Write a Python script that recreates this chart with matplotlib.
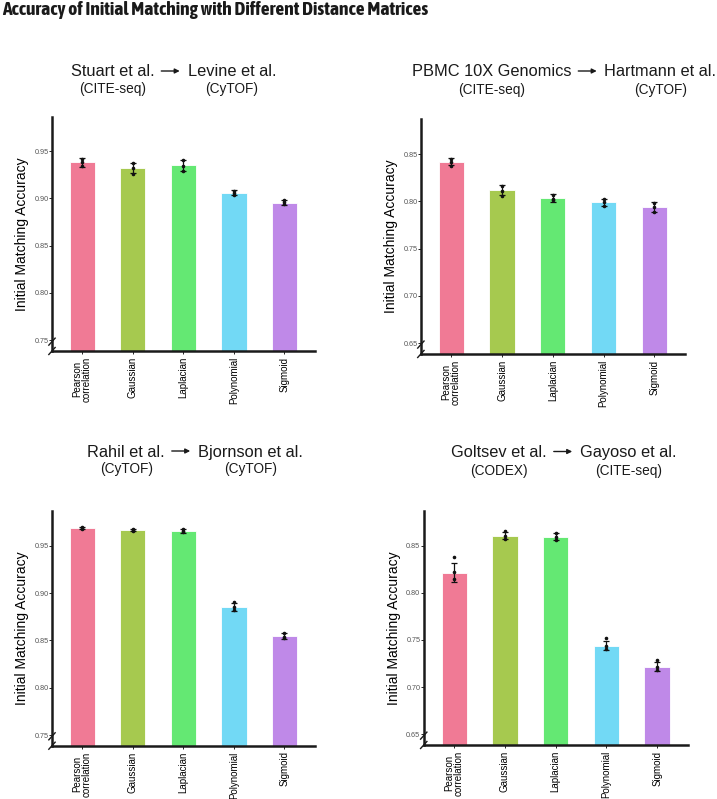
import matplotlib
matplotlib.use("Agg")
import matplotlib.pyplot as plt
from matplotlib import font_manager
from matplotlib.patches import FancyArrowPatch
import numpy as np

plt.rcParams['font.family'] = ['Liberation Sans', 'DejaVu Sans']

#------------------------------------------------------------------------------
#                               DATA
methods = ['Pearson\ncorrelation', 'Gaussian', 'Laplacian', 'Polynomial', 'Sigmoid']
colors = ['#F07A95', '#A6C94F', '#64E873', '#72D9F5', '#BF89E8']

titles = [('Stuart et al.', 'Levine et al.', '(CITE-seq)', '(CyTOF)'),
          ('PBMC 10X Genomics', 'Hartmann et al.', '(CITE-seq)', '(CyTOF)'),
          ('Rahil et al.', 'Bjornson et al.', '(CyTOF)', '(CyTOF)'),
          ('Goltsev et al.', 'Gayoso et al.', '(CODEX)', '(CITE-seq)')]

# mean accuracy per method, for each panel
means_stuart = [0.938, 0.932, 0.935, 0.906, 0.8955]
means_pbmc = [0.842, 0.812, 0.8035, 0.799, 0.794]
means_rahil = [0.969, 0.9666, 0.9655, 0.885, 0.8543]
means_goltsev = [0.8215, 0.8606, 0.8595, 0.744, 0.7216]

# error bar half widths
err_stuart = [0.0045, 0.005, 0.006, 0.0025, 0.0025]
err_pbmc = [0.004, 0.005, 0.004, 0.004, 0.005]
err_rahil = [0.001, 0.0015, 0.002, 0.004, 0.003]
err_goltsev = [0.0105, 0.004, 0.0035, 0.0045, 0.005]

# individual runs (dots)
pts_stuart = [[0.934, 0.938, 0.942], [0.926, 0.932, 0.937], [0.929, 0.934, 0.941],
              [0.904, 0.906, 0.908], [0.894, 0.896, 0.898]]
pts_pbmc = [[0.837, 0.842, 0.845], [0.806, 0.811, 0.816], [0.801, 0.803, 0.807],
            [0.795, 0.799, 0.802], [0.789, 0.794, 0.798]]
pts_rahil = [[0.968, 0.969, 0.970], [0.9655, 0.9665, 0.968], [0.964, 0.9655, 0.9675],
             [0.882, 0.885, 0.891], [0.852, 0.854, 0.858]]
pts_goltsev = [[0.815, 0.822, 0.838], [0.857, 0.860, 0.865], [0.856, 0.859, 0.863],
               [0.740, 0.744, 0.752], [0.718, 0.721, 0.729]]

means = [means_stuart, means_pbmc, means_rahil, means_goltsev]
errs = [err_stuart, err_pbmc, err_rahil, err_goltsev]
pts = [pts_stuart, pts_pbmc, pts_rahil, pts_goltsev]
yticks = [[0.75, 0.80, 0.85, 0.90, 0.95], [0.65, 0.70, 0.75, 0.80, 0.85],
          [0.75, 0.80, 0.85, 0.90, 0.95], [0.65, 0.70, 0.75, 0.80, 0.85]]
ylims = [(0.7385, 0.986), (0.6387, 0.887), (0.7387, 0.987), (0.6387, 0.887)]

#------------------------------------------------------------------------------
#                               LAYOUT (pixels of a 717x799 canvas)
W, H = 717.0, 799.0
rects = [[0.0725, 0.5607, 0.3665, 0.2929],
         [0.587, 0.557, 0.368, 0.294],
         [0.0725, 0.0667, 0.3665, 0.2941],
         [0.591, 0.0676, 0.368, 0.2932]]
arrow_cx = [170.5, 587.5, 181, 563]
title_y = [72, 72, 452, 452.5]
sub_y = [89.5, 90, 469.5, 471]

#------------------------------------------------------------------------------
#                               PLOT
fig = plt.figure(figsize=(7.17, 7.99), dpi=100)


def is_bold(f):
    w = f.weight
    if isinstance(w, str):
        w = font_manager.weight_dict.get(w, 400)
    return w >= 600


# condensed bold font for the header if one exists
narrow = sorted({f.name for f in font_manager.fontManager.ttflist
                 if ('Narrow' in f.name or 'Condensed' in f.name) and is_bold(f)})
header = 'Accuracy of Initial Matching with Different Distance Matrices'
if narrow:
    fig.text(0.003, 1 - 1 / H, header, family=[narrow[0], 'Liberation Sans'],
             fontweight='bold', fontsize=14, ha='left', va='top', color='#1a1a1a')
else:
    fig.text(0.003, 1 - 3 / H, header, fontweight='bold', fontsize=10.8,
             ha='left', va='top', color='#1a1a1a')

renderer = fig.canvas.get_renderer()

x = np.arange(len(methods))
for i in range(4):
    ax = fig.add_axes(rects[i])
    ax.bar(x, means[i], width=0.5, color=colors, edgecolor='white', linewidth=0.6, zorder=1)
    ax.errorbar(x, means[i], yerr=errs[i], fmt='none', ecolor='#111111',
                elinewidth=0.9, capsize=2.5, capthick=0.9, zorder=3)
    for j in range(len(methods)):
        ax.scatter([x[j]] * len(pts[i][j]), pts[i][j], s=2.5, color='#111111', zorder=4)
    ax.set_xlim(-0.6, 4.6)
    ax.set_ylim(*ylims[i])
    ax.set_yticks(yticks[i])
    ax.set_yticklabels(['%.2f' % v for v in yticks[i]], fontsize=5.2, color='#555555')
    ax.set_xticks(x)
    ax.set_xticklabels(methods, rotation=90, fontsize=7, va='top', linespacing=0.95)
    ax.tick_params(axis='y', length=2, width=0.6, pad=0.5)
    ax.tick_params(axis='x', length=2, width=0.6, pad=2)
    for s in ['top', 'right']:
        ax.spines[s].set_visible(False)
    for s in ['left', 'bottom']:
        ax.spines[s].set_linewidth(1.8)
        ax.spines[s].set_color('#1a1a1a')
    ax.set_ylabel('Initial Matching Accuracy', fontsize=10, labelpad=4)

    # axis break mark
    kw = dict(transform=ax.transAxes, color='#1a1a1a', lw=1.0, clip_on=False)
    ax.plot([-0.012, 0.012], [0.025, 0.055], **kw)
    ax.plot([-0.012, 0.012], [-0.015, 0.015], **kw)

    # panel title: source -> target, with data type below each name
    src, dst, src_t, dst_t = titles[i]
    ax_c = arrow_cx[i] / W
    ty = 1 - title_y[i] / H
    sy = 1 - sub_y[i] / H
    t1 = fig.text(ax_c - 16 / W, ty, src, fontsize=11.8, ha='right', va='center', color='#1a1a1a')
    t2 = fig.text(ax_c + 17 / W, ty, dst, fontsize=11.8, ha='left', va='center', color='#1a1a1a')
    for t, sub in [(t1, src_t), (t2, dst_t)]:
        bb = t.get_window_extent(renderer)
        fig.text((bb.x0 + bb.x1) / 2 / W, sy, sub, fontsize=9.8,
                 ha='center', va='center', color='#1a1a1a')
    fig.patches.append(FancyArrowPatch(
        (ax_c - 12 / W, ty + 1 / H), (ax_c + 12 / W, ty + 1 / H), transform=fig.transFigure,
        arrowstyle='-|>', mutation_scale=7, lw=1.0, color='#1a1a1a'))

fig.savefig('out.png', dpi=100, facecolor='white')
